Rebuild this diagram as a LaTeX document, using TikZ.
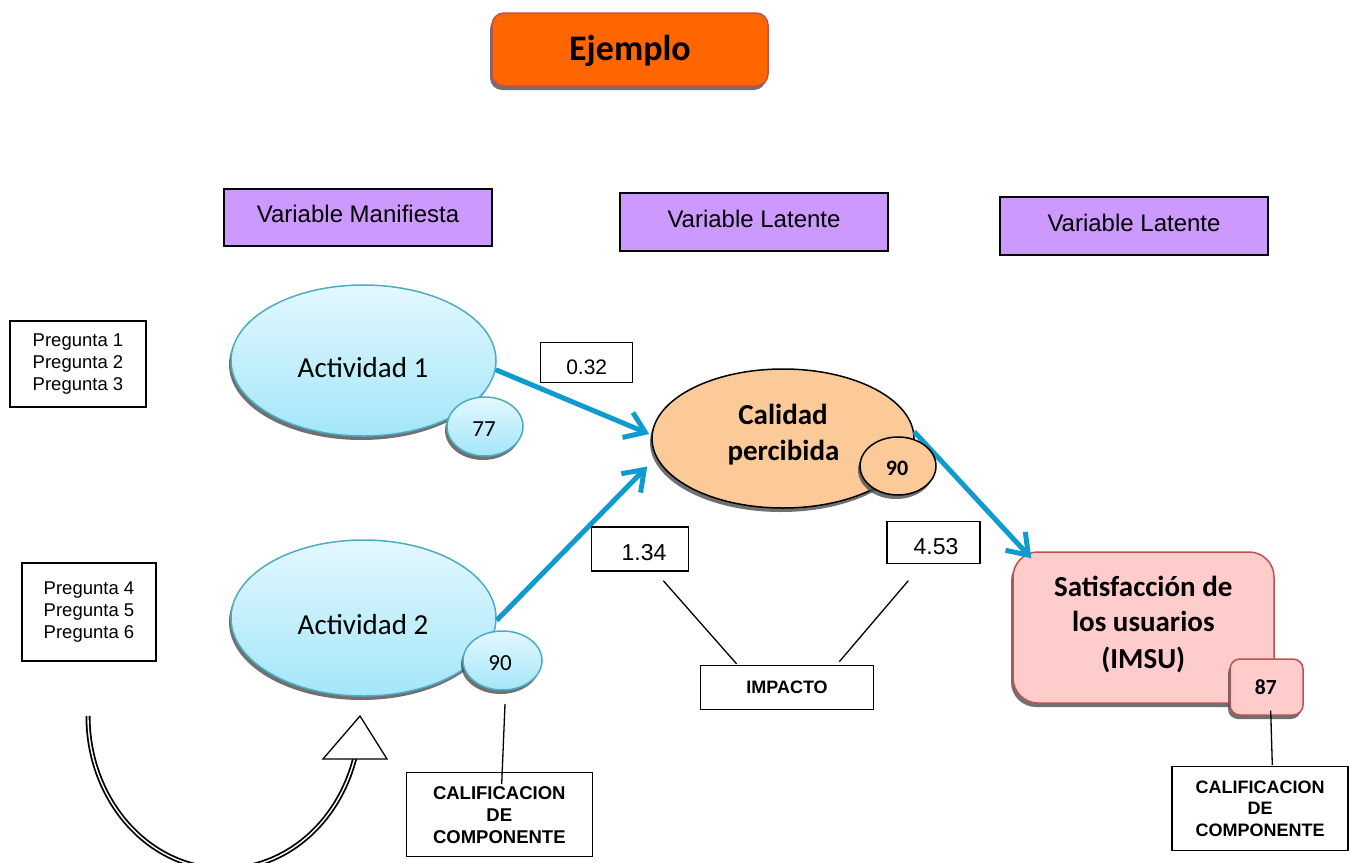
\documentclass[tikz,border=0pt]{standalone}
\usepackage{fontspec}
\setmainfont{Liberation Sans}
\newfontfamily\calib{Carlito}
\usetikzlibrary{arrows.meta,shadows,shapes.geometric,calc}
\definecolor{orangeT}{HTML}{FF6600}
\definecolor{redB}{HTML}{C0504D}
\definecolor{violetV}{HTML}{CC99FF}
\definecolor{cyanB}{HTML}{4BACC6}
\definecolor{cyanTop}{HTML}{E3F8FE}
\definecolor{cyanBot}{HTML}{A4E6FA}
\definecolor{peach}{HTML}{FBCA98}
\definecolor{pinkF}{HTML}{FFCCCC}
\definecolor{arrowBlue}{HTML}{0F9BD0}
\newcommand\fsz[2]{\fontsize{#1}{#2}\selectfont}
\begin{document}
\begin{tikzpicture}[x=1pt,y=-1pt,
  shad/.style={drop shadow={shadow xshift=-2pt,shadow yshift=-4pt,fill=black!70,opacity=0.8}},
  wbox/.style={draw=black,line width=1.4pt,fill=white,inner sep=0pt,align=center},
  vbox/.style={draw=black,line width=1.2pt,fill=violetV,inner sep=0pt,minimum width=268pt,minimum height=57pt,font=\fsz{24}{28},text height=17pt,text depth=7pt},
  txt/.style={inner sep=0pt,anchor=base},
  cyell/.style={ellipse,draw=cyanB,line width=1.5pt,top color=cyanTop,bottom color=cyanBot,inner sep=0pt,shad},
  bluearrow/.style={draw=arrowBlue,line width=5pt,-{Straight Barb[length=19pt,width=27pt]}},
  thinline/.style={draw=black,line width=1.3pt},
]
\useasboundingbox (0,0) rectangle (1349,862);
\clip (0,0) rectangle (1349,862);

% title
\node[draw=redB,line width=1.5pt,fill=orangeT,rounded corners=12pt,minimum width=276pt,minimum height=73pt,inner sep=0pt,shad] (title) at (630,49.5) {};
\node[txt,font=\calib\bfseries\fsz{36}{40}] (titletxt) at (630,60) {Ejemplo};

% variable headers
\node[vbox] (vm) at (358,217.5) {Variable Manifiesta};
\node[vbox,minimum height=58pt] (vl1) at (754,222) {Variable Latente};
\node[vbox,minimum height=58pt] (vl2) at (1134,226) {Variable Latente};

% question boxes
\node[wbox,minimum width=136pt,minimum height=86pt,font=\fsz{18.5}{22}] (p1) at (78,364) {Pregunta 1\\Pregunta 2\\Pregunta 3};
\node[wbox,minimum width=134pt,minimum height=98pt,font=\fsz{18.5}{22}] (p2) at (89,612) {Pregunta 4\\Pregunta 5\\Pregunta 6};

% big shapes
\node[cyell,minimum width=265pt,minimum height=151pt] (act1) at (363.5,360.5) {};
\node[txt,font=\calib\fsz{29}{34}] (act1t) at (363,377.7) {Actividad 1};
\node[cyell,minimum width=265pt,minimum height=156pt] (act2) at (363.5,618) {};
\node[txt,font=\calib\fsz{29}{34}] (act2t) at (363,634.5) {Actividad 2};

\node[ellipse,draw=black,line width=1.5pt,fill=peach,inner sep=0pt,minimum width=262pt,minimum height=139pt,shad] (cal) at (783,438.5) {};
\node[txt,font=\calib\bfseries\fsz{29}{34}] (calt1) at (783,424) {Calidad};
\node[txt,font=\calib\bfseries\fsz{29}{34}] (calt2) at (783.5,460) {percibida};

\node[draw=redB,line width=1.5pt,fill=pinkF,rounded corners=25pt,inner sep=0pt,minimum width=261pt,minimum height=151pt,shad] (sat) at (1143.5,627.5) {};
\node[txt,font=\calib\bfseries\fsz{29}{34}] (satt1) at (1143.3,596.7) {Satisfacción de};
\node[txt,font=\calib\bfseries\fsz{29}{34}] (satt2) at (1143.3,631.7) {los usuarios};
\node[txt,font=\calib\bfseries\fsz{29}{34}] (satt3) at (1143.3,668) {(IMSU)};

% blue arrows
\draw[bluearrow] (act1.-4) -- ($(cal.west)+(-2,-4.5)$);
\draw[bluearrow] (act2.-1) -- ($(cal.west)+(-4,28)$);
\draw[bluearrow] (cal.3) -- ($(sat.north west)+(19,7)$);

% small shapes
\node[cyell,minimum width=76pt,minimum height=59pt] (s77) at (485,426.5) {};
\node[txt,font=\calib\fsz{23}{26}] (s77t) at (484,436) {77};
\node[cyell,minimum width=79pt,minimum height=59pt] (s90a) at (502.5,660.5) {};
\node[txt,font=\calib\fsz{23}{26}] (s90at) at (500,670.7) {90};
\node[ellipse,draw=black,line width=1.5pt,fill=peach,inner sep=0pt,minimum width=76pt,minimum height=58pt,shad] (s90b) at (898,466) {};
\node[txt,font=\calib\bfseries\fsz{22}{26}] (s90bt) at (897,475) {90};
\node[draw=redB,line width=1.5pt,fill=pinkF,rounded corners=10pt,inner sep=0pt,minimum width=73pt,minimum height=56pt,shad] (s87) at (1266.5,687) {};
\node[txt,font=\calib\bfseries\fsz{21.5}{26}] (s87t) at (1265.8,694) {87};

% value boxes
\node[wbox,minimum width=92pt,minimum height=40pt] (v032) at (586.7,362.7) {};
\node[txt,font=\fsz{21}{24}] (v032t) at (586.7,374.3) {0.32};
\node[wbox,minimum width=97pt,minimum height=44pt] (v134) at (640,549) {};
\node[txt,font=\fsz{23}{26}] (v134t) at (644,560) {1.34};
\node[wbox,minimum width=93pt,minimum height=42pt] (v453) at (933.6,542.2) {};
\node[txt,font=\fsz{23}{26}] (v453t) at (936,554) {4.53};

% impacto
\node[wbox,minimum width=173pt,minimum height=44pt,font=\bfseries\fsz{18}{22}] (imp) at (787,687.2) {IMPACTO};
\coordinate (i1a) at (663.3,580.7);
\coordinate (i1b) at (736.7,664);
\coordinate (i2a) at (908.3,580.7);
\coordinate (i2b) at (839.3,661.7);
\draw[thinline] (i1a) -- (i1b);
\draw[thinline] (i2a) -- (i2b);

% calificacion boxes
\node[wbox,minimum width=186pt,minimum height=84pt,font=\bfseries\fsz{18.5}{22}] (cal1) at (499.3,814.7) {CALIFICACION\\DE\\COMPONENTE};
\coordinate (c1a) at (505,704);
\coordinate (c1b) at (501.7,784);
\draw[thinline] (c1a) -- (c1b);
\node[wbox,minimum width=176pt,minimum height=84pt,font=\bfseries\fsz{18}{21.5}] (cal2) at (1260,808.7) {CALIFICACION\\DE\\COMPONENTE};
\coordinate (c2a) at (1270.7,710.7);
\coordinate (c2b) at (1272.3,765);
\draw[thinline] (c2a) -- (c2b);

% curved arrow
\coordinate (ca) at (88,716);
\draw[draw=black,line width=1.8pt,double=white,double distance=1.4pt] (ca) arc[start angle=180,end angle=16,x radius=136,y radius=153] coordinate (cb);
\draw[draw=black,line width=1.3pt,fill=white,line join=miter] (323,759) -- (360,716) -- (387,759) -- cycle;
\end{tikzpicture}
\end{document}
